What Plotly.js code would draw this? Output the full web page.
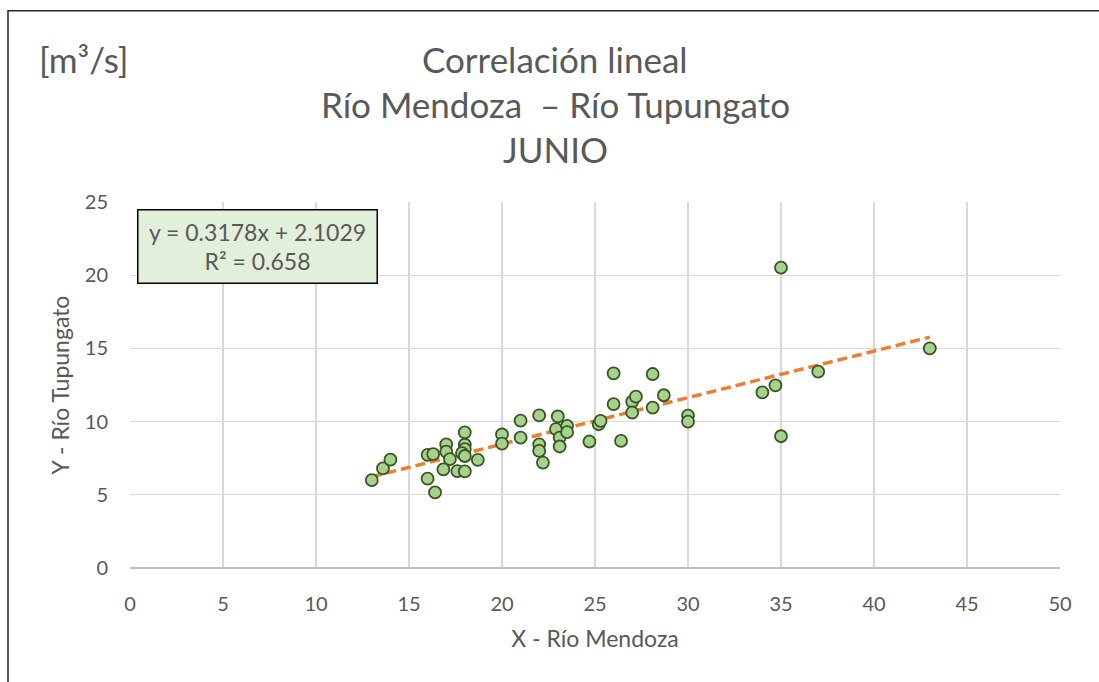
<!DOCTYPE html>
<html>
<head>
<meta charset="utf-8">
<script src="https://cdn.plot.ly/plotly-3.0.1.min.js"></script>
<style>html,body{margin:0;padding:0;background:#fff;}#chart{width:1099px;height:682px;}</style>
</head>
<body>
<div id="chart"></div>
<script>
const mendozaX = [13.0, 13.6, 14.0, 16.0, 16.3, 16.0, 16.4, 17.0, 17.0, 17.2, 16.85, 17.6, 18.0, 18.0, 18.0, 18.0, 17.85, 18.0, 18.7,
  20.0, 20.0, 21.0, 21.0, 22.0, 22.0, 22.0, 22.2, 23.0, 22.9, 23.1, 23.1, 23.5, 23.5, 24.7, 25.2, 25.3,
  26.0, 26.0, 26.4, 27.0, 27.0, 27.2, 28.1, 28.1, 28.7, 30.0, 30.0, 34.0, 34.7, 35.0, 35.0, 37.0, 43.0];
const tupungatoY = [6.0, 6.8, 7.4, 7.73, 7.78, 6.1, 5.16, 8.45, 7.95, 7.44, 6.73, 6.62, 6.6, 9.27, 8.42, 8.12, 7.85, 7.65, 7.39,
  9.12, 8.5, 10.07, 8.9, 10.42, 8.45, 8.0, 7.2, 10.35, 9.48, 8.91, 8.3, 9.71, 9.28, 8.64, 9.82, 10.05,
  13.3, 11.2, 8.68, 11.37, 10.62, 11.7, 13.25, 10.96, 11.8, 10.41, 10.0, 12.0, 12.48, 20.52, 9.0, 13.42, 15.0];
const titleLines = ["Correlación lineal", "Río Mendoza  – Río Tupungato", "JUNIO"];
const unitLabel = "[m³/s]";
const xAxisTitle = "X - Río Mendoza";
const yAxisTitle = "Y - Río Tupungato";
const trendSlope = 0.3178;
const trendIntercept = 2.1029;
const rSquared = 0.658;

const xMin = Math.min(...mendozaX), xMax = Math.max(...mendozaX);
const trendX = [xMin, xMax];
const trendY = trendX.map(v => trendSlope * v + trendIntercept);

const FONT = "Lato, 'Noto Sans', sans-serif";
const GREY = "#595959";

const traces = [
  {
    x: trendX, y: trendY, mode: "lines", type: "scatter",
    line: {color: "#ED7D31", width: 3.5, dash: "10px,5px"},
    hoverinfo: "skip", showlegend: false
  },
  {
    x: mendozaX, y: tupungatoY, mode: "markers", type: "scatter",
    marker: {size: 12, color: "#A9D18E", line: {color: "#375623", width: 1.8}},
    showlegend: false
  }
];

const annotations = titleLines.map((t, i) => ({
  text: t, xref: "paper", yref: "paper",
  x: (555 - 130) / 930, y: (568.4 - [58, 104, 149][i]) / 366.7,
  xanchor: "center", yanchor: "middle", showarrow: false,
  font: {family: FONT, size: 35, color: GREY}
}));
annotations.push({
  text: unitLabel, xref: "paper", yref: "paper",
  x: (37 - 130) / 930, y: (568.4 - 58) / 366.7,
  xanchor: "left", yanchor: "middle", showarrow: false,
  font: {family: FONT, size: 35, color: GREY}
});
annotations.push({
  text: "y = " + trendSlope + "x + " + trendIntercept + "<br>R² = " + rSquared,
  xref: "paper", yref: "paper",
  x: (257 - 130) / 930, y: (568.4 - 246) / 366.7,
  xanchor: "center", yanchor: "middle", showarrow: false,
  font: {family: FONT, size: 23, color: GREY},
  bgcolor: "#E2EFDA", bordercolor: "#000000", borderwidth: 1.5,
  borderpad: 4, width: 230, height: 64, align: "center"
});

const layout = {
  width: 1099, height: 682,
  margin: {l: 130, r: 39, t: 202, b: 114},
  paper_bgcolor: "#ffffff", plot_bgcolor: "#ffffff",
  font: {family: FONT, color: GREY},
  xaxis: {
    range: [0, 50], dtick: 5, tick0: 0,
    showgrid: true, gridcolor: "#D9D9D9", gridwidth: 1.3,
    zeroline: false, showline: false, ticks: "", ticklabelstandoff: 22,
    tickfont: {family: FONT, size: 20, color: GREY},
    title: {text: xAxisTitle, font: {family: FONT, size: 23, color: GREY}, standoff: 16},
    fixedrange: true
  },
  yaxis: {
    range: [0, 25], dtick: 5, tick0: 0,
    showgrid: true, gridcolor: "#D9D9D9", gridwidth: 1.3,
    zeroline: true, zerolinecolor: "#BFBFBF", zerolinewidth: 1.5,
    showline: false, ticks: "", ticklabelstandoff: 21,
    tickfont: {family: FONT, size: 20, color: GREY},
    title: {text: yAxisTitle, font: {family: FONT, size: 23, color: GREY}, standoff: 8},
    fixedrange: true
  },
  annotations: annotations,
  shapes: [{
    type: "path", xref: "paper", yref: "paper",
    path: "M " + ((8 - 130) / 930) + " -0.5 L " + ((8 - 130) / 930) + " " + ((568.4 - 10) / 366.7) + " L 1.2 " + ((568.4 - 10) / 366.7),
    line: {color: "#262626", width: 1.5}, layer: "above"
  }],
  showlegend: false
};

Plotly.newPlot("chart", traces, layout, {displayModeBar: false, staticPlot: true});
</script>
</body>
</html>
